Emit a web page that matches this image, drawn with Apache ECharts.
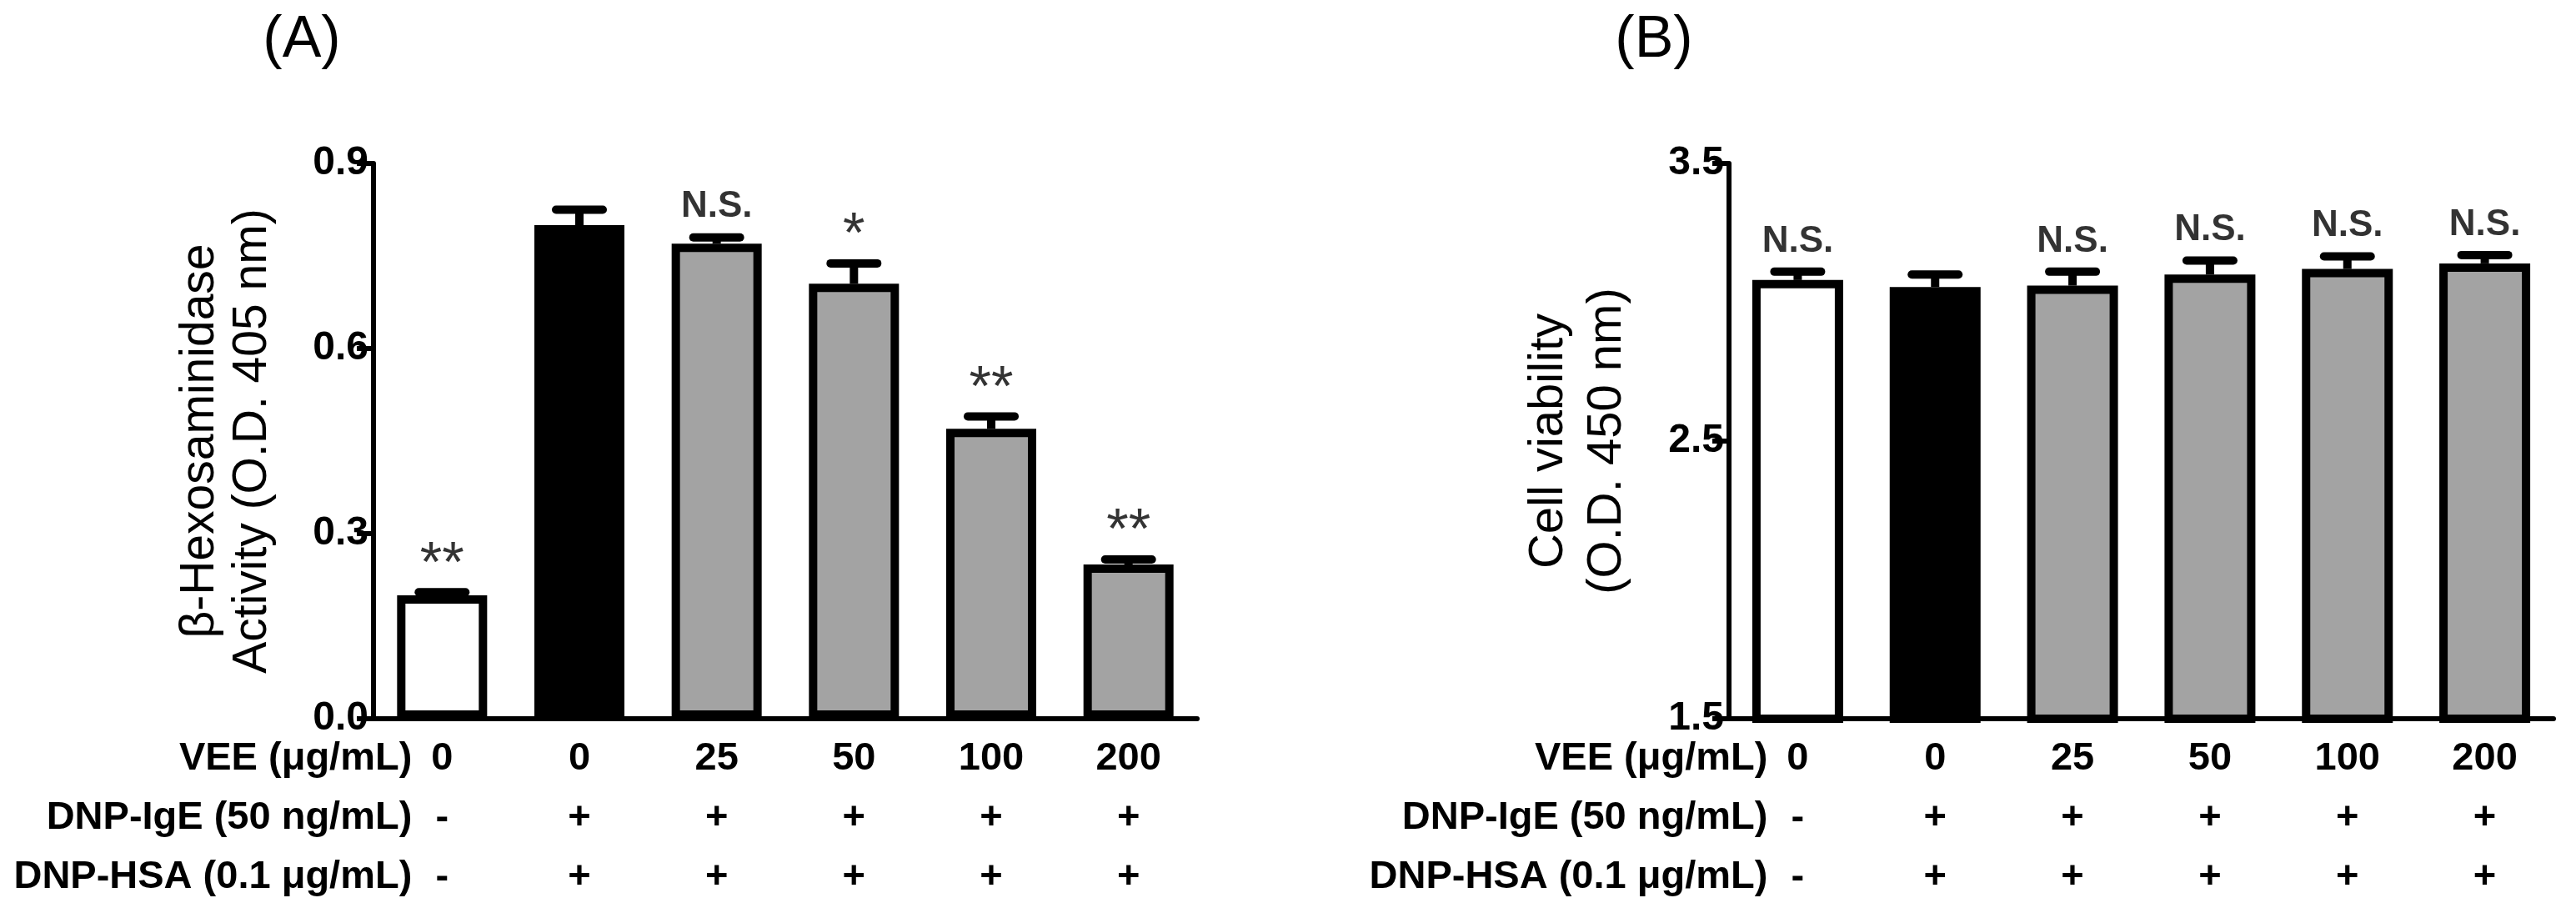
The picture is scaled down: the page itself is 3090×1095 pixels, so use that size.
<!DOCTYPE html>
<html><head><meta charset="utf-8">
<script src="https://cdn.jsdelivr.net/npm/echarts@6/dist/echarts.min.js"></script>
<style>html,body{margin:0;padding:0;background:#fff}#c{width:3090px;height:1095px}</style>
</head><body><div id="c"></div>
<script>
// ---------- data ----------
const veeDoses = ['0', '0', '25', '50', '100', '200'];
const igeRow = ['-', '+', '+', '+', '+', '+'];
const hsaRow = ['-', '+', '+', '+', '+', '+'];
const rowLabels = ['VEE (\u03bcg/mL)', 'DNP-IgE (50 ng/mL)', 'DNP-HSA (0.1 \u03bcg/mL)'];

const hexMean = [0.20, 0.80, 0.77, 0.705, 0.47, 0.25];
const hexErr  = [0.005, 0.025, 0.01, 0.033, 0.02, 0.008];
const hexSig  = ['**', '', 'N.S.', '*', '**', '**'];
const hexTicks = { min: 0, max: 0.9, interval: 0.3 };

const viaMean = [3.08, 3.055, 3.06, 3.10, 3.12, 3.14];
const viaErr  = [0.03, 0.045, 0.05, 0.05, 0.045, 0.03];
const viaSig  = ['N.S.', '', 'N.S.', 'N.S.', 'N.S.', 'N.S.'];
const viaTicks = { min: 1.5, max: 3.5, interval: 1 };

const panelTitles = ['(A)', '(B)'];
const yTitles = ['\u03b2-Hexosaminidase\nActivity (O.D. 405 nm)', 'Cell viability\n(O.D. 450 nm)'];

// ---------- style ----------
const FONT = "'Liberation Sans', Arial, Helvetica, sans-serif";
const barFill = ['#ffffff', '#000000', '#a3a3a3', '#a3a3a3', '#a3a3a3', '#a3a3a3'];
const grids = [
  { left: 448, top: 196, width: 988, height: 666 },
  { left: 2074, top: 196, width: 989, height: 666 }
];
const barWidths = [108, 109];
const nameGaps = [113, 111];
const nameFont = [57, 58];
const nameLH = [63, 70];
const LABEL_MARGIN = 13, LABEL_LH = 71;

const chart = echarts.init(document.getElementById('c'), null, { renderer: 'canvas' });

function xAxis(gi) {
  return {
    type: 'category', gridIndex: gi, data: veeDoses,
    axisLine: { lineStyle: { color: '#000', width: 6 } },
    axisTick: { alignWithLabel: true, length: 17, lineStyle: { color: '#000', width: 6 } },
    axisLabel: {
      interval: 0, margin: LABEL_MARGIN, color: '#000', fontFamily: FONT, fontWeight: 'bold',
      fontSize: 47, lineHeight: LABEL_LH,
      formatter: (v, i) => v + '\n' + igeRow[i] + '\n' + hsaRow[i]
    },
    splitLine: { show: false }
  };
}
function yAxis(gi, t) {
  return {
    type: 'value', gridIndex: gi, min: t.min, max: t.max, interval: t.interval,
    name: yTitles[gi], nameLocation: 'middle', nameRotate: 90, nameGap: nameGaps[gi],
    nameTextStyle: { fontFamily: FONT, fontSize: nameFont[gi], lineHeight: nameLH[gi], color: '#000', fontWeight: 'normal' },
    axisLine: { show: true, lineStyle: { color: '#000', width: 6 } },
    axisTick: { show: true, length: 20, lineStyle: { color: '#000', width: 6 } },
    axisLabel: { margin: 6, color: '#000', fontFamily: FONT, fontWeight: 'bold', fontSize: 48,
      formatter: v => v.toFixed(1) },
    splitLine: { show: false }
  };
}
function barSeries(gi, mean) {
  return {
    type: 'bar', xAxisIndex: gi, yAxisIndex: gi, barWidth: barWidths[gi],
    data: mean.map((v, i) => ({ value: v, itemStyle: { color: barFill[i] } })),
    itemStyle: { borderColor: '#000', borderWidth: 10 },
    z: 2, animation: false, silent: true
  };
}
function errSeries(gi, mean, err) {
  return {
    type: 'custom', xAxisIndex: gi, yAxisIndex: gi, z: 3, animation: false, silent: true,
    data: mean.map((v, i) => [i, v, v + err[i]]),
    encode: { x: 0, y: [1, 2] },
    renderItem: function (params, api) {
      const p0 = api.coord([api.value(0), api.value(1)]);
      const p1 = api.coord([api.value(0), api.value(2)]);
      const half = 28;
      return { type: 'group', children: [
        { type: 'line', shape: { x1: p0[0], y1: p0[1], x2: p1[0], y2: p1[1] },
          style: { stroke: '#000', lineWidth: 10 } },
        { type: 'line', shape: { x1: p1[0] - half, y1: p1[1], x2: p1[0] + half, y2: p1[1] },
          style: { stroke: '#000', lineWidth: 10, lineCap: 'round' } }
      ] };
    }
  };
}
function sigSeries(gi, mean, err, sig) {
  return {
    type: 'scatter', xAxisIndex: gi, yAxisIndex: gi, z: 4, animation: false, silent: true,
    symbolSize: 1, itemStyle: { color: 'rgba(0,0,0,0)' },
    data: mean.map((v, i) => ({
      value: [i, v + err[i]],
      label: { distance: sig[i].indexOf('*') >= 0 ? -2 : 14 }
    })),
    label: {
      show: true, position: 'top', color: '#000',
      formatter: p => {
        const s = sig[p.dataIndex];
        if (!s) return '';
        return s.indexOf('*') >= 0 ? '{s|' + s + '}' : '{n|' + s + '}';
      },
      rich: {
        s: { fontFamily: FONT, fontSize: 68, fontWeight: 'normal', color: '#000' },
        n: { fontFamily: FONT, fontSize: 44, fontWeight: 'bold', color: '#000' }
      }
    }
  };
}

const graphics = [];
const titleX = [362, 1984];
panelTitles.forEach((t, gi) => {
  graphics.push({ type: 'text', style: { text: t, x: titleX[gi], y: 49, align: 'center',
    verticalAlign: 'middle', fontFamily: FONT, fontSize: 70, fontWeight: 'normal', fill: '#000' } });
});

const option = {
  backgroundColor: '#fff',
  animation: false,
  grid: grids.map(g => Object.assign({ containLabel: false }, g)),
  xAxis: [xAxis(0), xAxis(1)],
  yAxis: [yAxis(0, hexTicks), yAxis(1, viaTicks)],
  series: [
    barSeries(0, hexMean), errSeries(0, hexMean, hexErr), sigSeries(0, hexMean, hexErr, hexSig),
    barSeries(1, viaMean), errSeries(1, viaMean, viaErr), sigSeries(1, viaMean, viaErr, viaSig)
  ],
  graphic: graphics
};
chart.setOption(option);

// row labels to the left of the first category column
const rowGraphics = graphics.slice();
[0, 1].forEach(gi => {
  const px = chart.convertToPixel({ xAxisIndex: gi }, 0);
  const axisY = grids[gi].top + grids[gi].height;
  rowLabels.forEach((t, k) => {
    rowGraphics.push({ type: 'text', style: {
      text: t, x: px - 36, y: axisY + LABEL_MARGIN + LABEL_LH * (k + 0.5),
      align: 'right', verticalAlign: 'middle', fontFamily: FONT, fontSize: 47,
      fontWeight: 'bold', fill: '#000' } });
  });
});
chart.setOption({ graphic: rowGraphics });
</script></body></html>
